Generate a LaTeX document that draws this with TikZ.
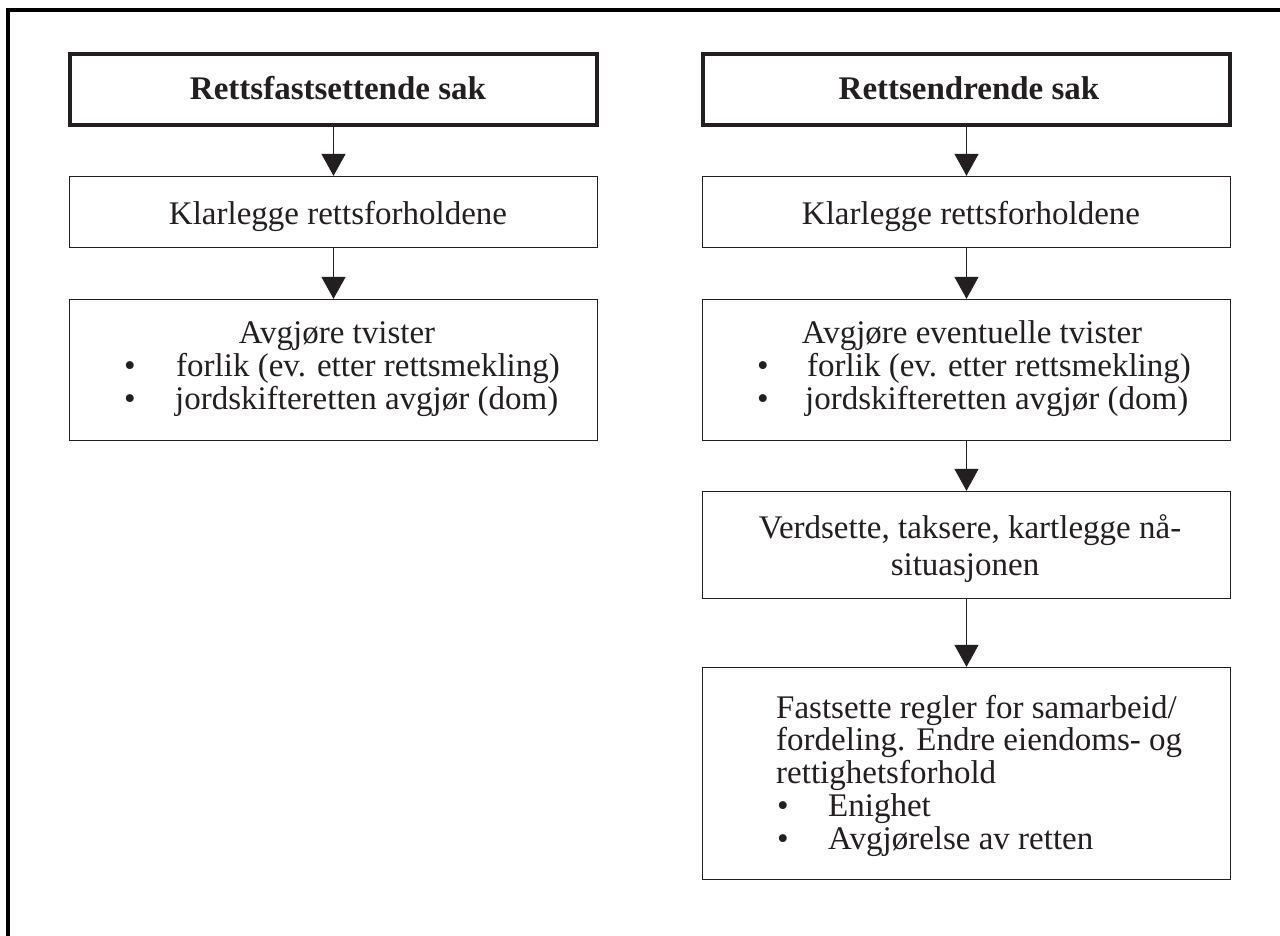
\documentclass[tikz,border=0pt]{standalone}
\usepackage{fontspec}
\setmainfont{Liberation Serif}
\usetikzlibrary{arrows.meta}
\definecolor{ink}{HTML}{231F20}
\tikzset{
  boxn/.style={draw=ink, line width=1.3pt, minimum width=528pt, inner sep=0pt},
  titlebox/.style={draw=ink, line width=4pt, minimum width=527pt, minimum height=71pt, inner sep=0pt},
  txt/.style={text=ink, font=\fontsize{33}{33}\selectfont, inner sep=0pt, anchor=base},
  txtl/.style={txt, anchor=base west},
  ttl/.style={txt, font=\fontsize{33}{33}\selectfont\bfseries},
  arr/.style={draw=ink, line width=1.3pt, -{Triangle[width=24pt,length=22pt]}},
  frame/.style={draw=black, line width=3.2pt}
}
\begin{document}
\begin{tikzpicture}[x=1pt,y=-1pt]
\useasboundingbox (0,0) rectangle (1280,936);
\fill[white] (0,0) rectangle (1280,936);
% outer frame (only top and left visible)
\draw[frame] (8,945) -- (8,10) -- (1290,10);

% left column
\node[titlebox] (tL) at (333.5,89.5) {};
\node[ttl] (tLt) at (338,100) {Rettsfastsettende sak};
\node[boxn, minimum height=71pt] (kL) at (333.5,212) {};
\node[txt] (kLt) at (338,225) {Klarlegge rettsforholdene};
\node[boxn, minimum height=141pt] (aL) at (333.5,370) {};
\node[txt] (aLh) at (337,343) {Avgjøre tvister};
\node[txtl] (aLb1) at (124,376) {•};
\node[txtl] (aLi1) at (176,376) {forlik (ev. etter rettsmekling)};
\node[txtl] (aLb2) at (124,409) {•};
\node[txtl] (aLi2) at (175,409) {jordskifteretten avgjør (dom)};

% right column
\node[titlebox] (tR) at (966.5,89.5) {};
\node[ttl] (tRt) at (969,100) {Rettsendrende sak};
\node[boxn, minimum height=71pt] (kR) at (966.5,212) {};
\node[txt] (kRt) at (971,225) {Klarlegge rettsforholdene};
\node[boxn, minimum height=141pt] (aR) at (966.5,370) {};
\node[txt] (aRh) at (972,343) {Avgjøre eventuelle tvister};
\node[txtl] (aRb1) at (757,376) {•};
\node[txtl] (aRi1) at (807,376) {forlik (ev. etter rettsmekling)};
\node[txtl] (aRb2) at (757,409) {•};
\node[txtl] (aRi2) at (805,409) {jordskifteretten avgjør (dom)};
\node[boxn, minimum height=107pt] (vR) at (966.5,545) {};
\node[txt] (vRt1) at (970,538) {Verdsette, taksere, kartlegge nå-};
\node[txt] (vRt2) at (965,575) {situasjonen};
\node[boxn, minimum height=212pt] (fR) at (966.5,773.5) {};
\node[txtl] (fRt1) at (776,718) {Fastsette regler for samarbeid/};
\node[txtl] (fRt2) at (776,750) {fordeling. Endre eiendoms- og};
\node[txtl] (fRt3) at (776,783) {rettighetsforhold};
\node[txtl] (fRb1) at (777,816) {•};
\node[txtl] (fRi1) at (828,816) {Enighet};
\node[txtl] (fRb2) at (777,849) {•};
\node[txtl] (fRi2) at (828,849) {Avgjørelse av retten};

% connectors
\draw[arr] (tL.south) -- (kL.north);
\draw[arr] (kL.south) -- (aL.north);
\draw[arr] (tR.south) -- (kR.north);
\draw[arr] (kR.south) -- (aR.north);
\draw[arr] (aR.south) -- (vR.north);
\draw[arr] (vR.south) -- (fR.north);
\end{tikzpicture}
\end{document}
